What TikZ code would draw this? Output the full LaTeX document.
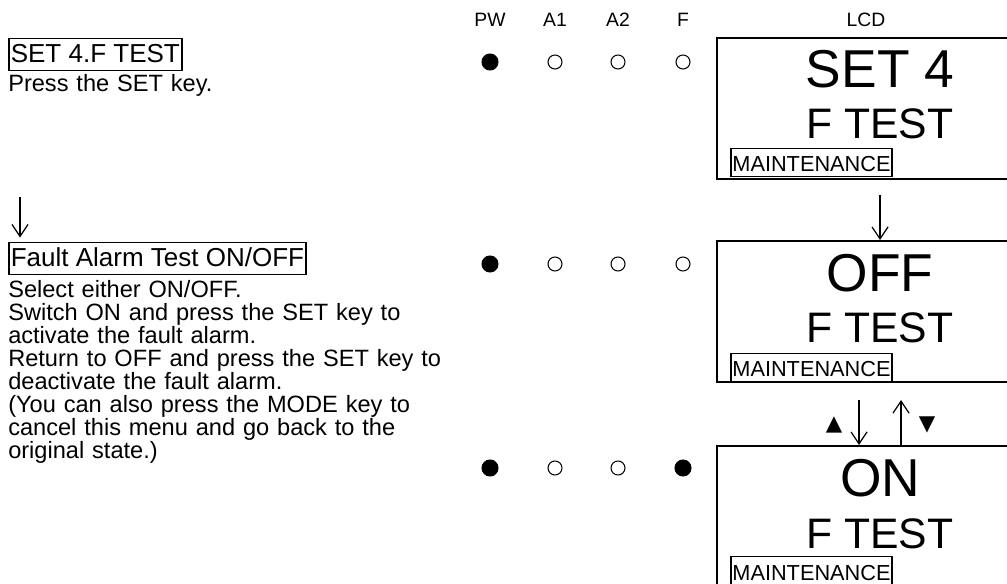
\documentclass[tikz,border=0pt]{standalone}
\usepackage{fontspec}
\setmainfont{Liberation Sans}
\newfontfamily\symfont{DejaVu Sans}
\usetikzlibrary{arrows.meta, positioning}

\begin{document}
\begin{tikzpicture}[
    x=0.75pt, y=-0.75pt,
    >={Straight Barb[length=9pt, width=12pt]},
    title/.style={draw, line width=1.2pt, anchor=base west, inner xsep=1.5pt, inner ysep=1pt, text height=17.5pt, text depth=4.5pt, font=\fontsize{19.5}{21}\selectfont},
    body/.style={anchor=base west, inner sep=0pt, align=left, text width=420pt, font=\fontsize{17.7}{17.25}\selectfont},
    hdr/.style={anchor=base, inner sep=0pt, font=\fontsize{14.5}{16}\selectfont},
    led/.style={circle, draw, line width=0.8pt, inner sep=0pt, minimum size=10.5pt},
    ledon/.style={led, fill=black, minimum size=12pt},
    lcd/.style={draw, line width=1.6pt, anchor=north west, inner sep=0pt, minimum width=330pt, minimum height=105.75pt},
    big/.style={anchor=base, inner sep=0pt, font=\fontsize{40}{40}\selectfont},
    mid/.style={anchor=base, inner sep=0pt, font=\fontsize{32}{32}\selectfont},
    maint/.style={draw, line width=1.2pt, anchor=base west, inner xsep=1.2pt, inner ysep=1pt, text height=16.5pt, text depth=2.5pt, font=\fontsize{16.3}{16}\selectfont},
    keymark/.style={inner sep=0pt, font=\symfont\fontsize{16}{16}\selectfont},
    flow/.style={->, line width=0.9pt}
  ]
    \clip (0,0) rectangle (1007,584);

    % column heads
    \node[hdr] (hpw) at (490,27) {PW};
    \node[hdr] (ha1) at (555,27) {A1};
    \node[hdr] (ha2) at (618,27) {A2};
    \node[hdr] (hf)  at (683,27) {F};
    \node[hdr] (hlcd) at (866,27) {LCD};

    % left side: steps
    \node[title] (step1) at (8,63) {SET 4.F TEST};
    \node[body] (txt1) at (8,92) {Press the SET key.};
    \node[title] (step2) at (8,267) {Fault Alarm Test ON/OFF};
    \node[body] (txt2) at (8,298) {Select either ON/OFF.\\
      Switch ON and press the SET key to\\
      activate the fault alarm.\\
      Return to OFF and press the SET key to\\
      deactivate the fault alarm.\\
      (You can also press the MODE key to\\
      cancel this menu and go back to the\\
      original state.)};

    % lamps
    \foreach \r/\y/\s in {1/62/led, 2/264/led, 3/468/ledon} {
      \node[ledon] (pw\r) at (490,\y) {};
      \node[led] (aa\r) at (555,\y) {};
      \node[led] (ab\r) at (618,\y) {};
      \node[\s] (ff\r) at (683,\y) {};
    }

    % displays
    \node[lcd] (lcd1) at (716,37) {};
    \node[big] (set4) at (880,88) {SET 4};
    \node[mid] (ft1) at (880,139) {F TEST};
    \node[maint] (mt1) at (730,172) {MAINTENANCE};

    \node[lcd] (lcd2) at (716,240) {};
    \node[big] (off) at (880,292) {OFF};
    \node[mid] (ft2) at (880,343) {F TEST};
    \node[maint] (mt2) at (730,377) {MAINTENANCE};

    \node[lcd] (lcd3) at (716,445) {};
    \node[big] (on) at (880,497) {ON};
    \node[mid] (ft3) at (880,548) {F TEST};
    \node[maint] (mt3) at (730,580) {MAINTENANCE};

    % arrows
    \coordinate (d1) at (20,197);
    \draw[flow, shorten >=3pt] (d1) -- (d1 |- step2.north);
    \coordinate (d2) at (880,195);
    \draw[flow] (d2) -- (d2 |- lcd2.north);
    \coordinate (d3) at (859,400);
    \draw[flow] (d3) -- (d3 |- lcd3.north);
    \coordinate (u3) at (901,400);
    \draw[flow] (u3 |- lcd3.north) -- (u3);
    \node[keymark] (upmark) at (834,425) {▲};
    \node[keymark] (downmark) at (927,425) {▼};
  \end{tikzpicture}
\end{document}
